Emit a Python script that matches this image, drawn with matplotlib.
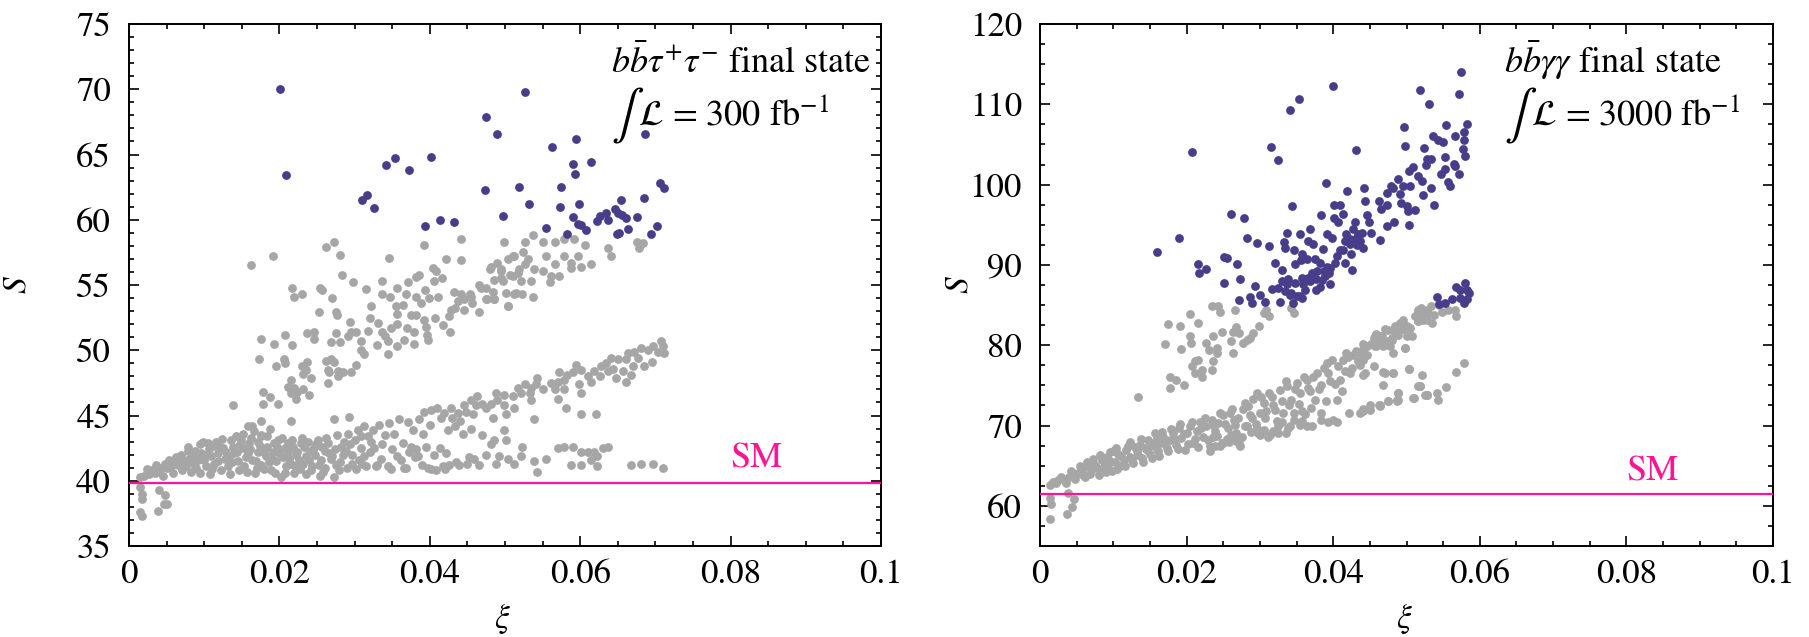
import numpy as np
import matplotlib
matplotlib.use("Agg")
import matplotlib.pyplot as plt
from matplotlib.ticker import MultipleLocator, FixedLocator, FixedFormatter

plt.rcParams["font.family"] = "STIXGeneral"
plt.rcParams["mathtext.fontset"] = "stix"

# ---- left panel: bb tau tau, 300 fb^-1 ----
left_gray = [
    # below the SM line
    (0.0014, 39.5), (0.0017, 39.0), (0.0017, 38.6), (0.0015, 37.6), (0.0017, 37.3),
    (0.0040, 39.3), (0.0048, 38.9), (0.0046, 38.2), (0.0050, 38.2), (0.0039, 37.7),
    # lower dense band
    (0.0014, 40.3), (0.0020, 40.4), (0.0027, 40.5), (0.0034, 40.6), (0.0040, 40.7), (0.0045, 40.4),
    (0.0051, 41.0), (0.0056, 41.1), (0.0060, 41.3), (0.0065, 41.2), (0.0067, 41.5), (0.0071, 40.8),
    (0.0076, 41.1), (0.0080, 41.7), (0.0085, 41.9), (0.0087, 41.3), (0.0089, 41.0), (0.0094, 42.8),
    (0.0098, 43.0), (0.0096, 42.1), (0.0100, 41.6), (0.0102, 41.1), (0.0107, 42.4), (0.0109, 41.9),
    (0.0113, 41.3), (0.0118, 42.1), (0.0120, 42.6), (0.0122, 40.8), (0.0127, 41.7), (0.0131, 41.1),
    (0.0136, 43.1), (0.0138, 42.6), (0.0140, 42.1), (0.0142, 43.4), (0.0145, 41.5), (0.0149, 43.1),
    (0.0151, 42.5), (0.0153, 41.1), (0.0158, 42.1), (0.0160, 42.9), (0.0164, 41.6), (0.0167, 40.6),
    (0.0171, 42.2), (0.0176, 43.4), (0.0176, 41.2), (0.0182, 41.9), (0.0184, 42.6), (0.0189, 40.8),
    (0.0193, 42.9), (0.0195, 41.5), (0.0200, 42.1), (0.0202, 40.3), (0.0207, 42.5), (0.0209, 41.1),
    (0.0213, 41.7), (0.0218, 42.6), (0.0220, 40.6), (0.0224, 42.2), (0.0229, 42.9), (0.0231, 41.3),
    (0.0235, 41.9), (0.0238, 43.0), (0.0242, 40.8), (0.0246, 42.5), (0.0251, 43.1), (0.0255, 41.6),
    (0.0258, 40.7), (0.0262, 43.3), (0.0266, 42.1), (0.0273, 40.3), (0.0275, 41.2), (0.0277, 43.5),
    (0.0282, 42.6), (0.0284, 42.0), (0.0291, 43.6), (0.0297, 41.3), (0.0300, 43.1), (0.0304, 43.9),
    (0.0309, 42.5), (0.0313, 44.2), (0.0315, 41.1), (0.0320, 42.2), (0.0324, 43.9), (0.0328, 41.1),
    (0.0333, 44.3), (0.0337, 42.8), (0.0344, 41.1), (0.0346, 44.4), (0.0353, 43.6), (0.0357, 41.9),
    (0.0359, 44.7), (0.0364, 42.9), (0.0366, 41.0), (0.0371, 44.5), (0.0375, 42.6), (0.0377, 43.9),
    (0.0384, 41.9), (0.0386, 44.7), (0.0391, 43.6), (0.0395, 42.6), (0.0397, 41.0), (0.0402, 45.4),
    (0.0408, 40.8), (0.0410, 45.6), (0.0413, 42.5), (0.0417, 41.1), (0.0419, 45.2), (0.0424, 43.9),
    (0.0426, 41.2), (0.0428, 45.6), (0.0433, 44.2), (0.0437, 45.2), (0.0439, 41.2), (0.0444, 43.6),
    (0.0446, 45.8), (0.0450, 41.3), (0.0455, 46.2), (0.0455, 44.0), (0.0459, 41.7), (0.0461, 45.8),
    (0.0030, 40.8), (0.0048, 41.3), (0.0058, 40.6), (0.0069, 42.0), (0.0078, 42.3), (0.0083, 40.7),
    (0.0092, 41.6), (0.0105, 42.9), (0.0111, 40.9), (0.0116, 43.0), (0.0125, 42.5), (0.0133, 41.8),
    (0.0147, 42.8), (0.0155, 41.8), (0.0162, 43.3), (0.0169, 41.5), (0.0174, 42.7), (0.0180, 40.9),
    (0.0186, 41.4), (0.0191, 42.2), (0.0198, 43.1), (0.0205, 41.8), (0.0211, 42.9), (0.0216, 41.3),
    (0.0222, 42.0), (0.0227, 40.9), (0.0233, 42.6), (0.0240, 41.6), (0.0248, 42.0), (0.0253, 41.2),
    (0.0260, 42.3), (0.0268, 41.7), (0.0280, 41.4), (0.0288, 42.3), (0.0294, 42.8), (0.0306, 41.6),
    (0.0318, 43.4),
    (0.0310, 41.3), (0.0330, 41.2), (0.0348, 40.9), (0.0368, 41.0), (0.0380, 41.8), (0.0402, 40.9),
    (0.0420, 40.9), (0.0435, 41.4), (0.0452, 41.8), (0.0465, 41.2),
    (0.0024, 40.9), (0.0036, 41.2), (0.0043, 41.0), (0.0053, 41.6), (0.0062, 41.8), (0.0074, 41.5),
    (0.0079, 42.6), (0.0088, 42.3), (0.0095, 40.6), (0.0104, 42.0), (0.0108, 40.5), (0.0115, 42.7),
    (0.0119, 41.5), (0.0124, 43.2), (0.0129, 42.2), (0.0134, 40.5), (0.0137, 41.4), (0.0144, 42.2),
    (0.0146, 40.8), (0.0152, 43.6), (0.0157, 40.7), (0.0161, 42.4), (0.0166, 43.8), (0.0170, 41.0),
    (0.0172, 43.0), (0.0179, 42.2), (0.0183, 43.4), (0.0190, 41.7), (0.0194, 40.6), (0.0197, 42.6),
    (0.0203, 43.3), (0.0208, 40.6), (0.0212, 42.2), (0.0217, 43.1), (0.0221, 41.1), (0.0226, 41.6),
    (0.0230, 43.3), (0.0236, 40.5), (0.0241, 42.3), (0.0244, 41.1), (0.0249, 42.8), (0.0254, 40.4),
    (0.0257, 42.6), (0.0261, 41.0), (0.0264, 42.9), (0.0270, 41.9), (0.0274, 42.4), (0.0279, 40.8),
    (0.0286, 43.0), (0.0290, 41.0), (0.0296, 42.0), (0.0302, 40.9), (0.0308, 43.4), (0.0312, 41.9),
    (0.0322, 43.0), (0.0326, 42.5), (0.0335, 41.7), (0.0340, 43.5), (0.0350, 42.4), (0.0362, 41.6),
    (0.0372, 42.2), (0.0382, 42.4), (0.0389, 41.2), (0.0400, 44.3), (0.0406, 42.0), (0.0415, 44.8),
    (0.0422, 42.1), (0.0430, 44.8), (0.0440, 44.6), (0.0448, 45.3), (0.0458, 45.1), (0.0463, 46.5),
    # between the bands
    (0.0138, 45.8), (0.0178, 46.8), (0.0178, 45.9), (0.0188, 46.4), (0.0198, 45.9), (0.0176, 44.6),
    (0.0216, 44.6), (0.0272, 44.7), (0.0292, 44.9), (0.0158, 44.2), (0.0164, 44.2), (0.0187, 44.0),
    (0.0176, 43.5), (0.0392, 45.3),
    # upper band
    (0.0162, 56.5), (0.0191, 57.2), (0.0262, 57.9), (0.0272, 58.3), (0.0280, 57.3), (0.0283, 55.8),
    (0.0298, 55.2), (0.0315, 54.7), (0.0217, 54.8), (0.0219, 54.1), (0.0230, 54.3), (0.0254, 54.8),
    (0.0257, 54.6), (0.0270, 54.0), (0.0253, 52.9), (0.0275, 52.9), (0.0277, 52.7), (0.0294, 52.2),
    (0.0295, 51.4), (0.0302, 51.4), (0.0291, 51.1), (0.0318, 51.5), (0.0269, 50.6), (0.0275, 51.3),
    (0.0280, 50.6), (0.0237, 51.3), (0.0246, 51.4), (0.0246, 50.9), (0.0207, 51.2), (0.0217, 50.4),
    (0.0193, 50.5), (0.0176, 50.9), (0.0173, 49.3), (0.0206, 49.3), (0.0207, 49.0), (0.0195, 48.8),
    (0.0230, 48.8), (0.0237, 49.1), (0.0235, 48.5), (0.0242, 47.9), (0.0231, 48.2), (0.0215, 47.7),
    (0.0211, 47.2), (0.0220, 47.1), (0.0215, 46.7), (0.0224, 46.8), (0.0232, 47.0), (0.0222, 46.3),
    (0.0239, 46.6), (0.0262, 49.2), (0.0268, 49.3), (0.0273, 49.1), (0.0264, 48.5), (0.0266, 48.3),
    (0.0265, 47.5), (0.0278, 48.4), (0.0278, 48.0), (0.0284, 48.3), (0.0295, 48.3), (0.0302, 48.9),
    (0.0309, 50.7), (0.0309, 50.0), (0.0313, 49.7), (0.0331, 52.1), (0.0330, 50.4), (0.0336, 51.4),
    (0.0340, 51.1), (0.0344, 49.7), (0.0344, 50.7), (0.0349, 51.7), (0.0320, 52.5), (0.0322, 53.4),
    (0.0337, 55.3), (0.0336, 54.3), (0.0347, 54.1), (0.0346, 57.1), (0.0357, 54.8), (0.0355, 53.4),
    (0.0356, 52.8), (0.0371, 55.2), (0.0368, 54.3), (0.0365, 53.5), (0.0357, 52.0), (0.0370, 51.7),
    (0.0366, 50.8), (0.0357, 50.3), (0.0375, 52.7), (0.0382, 55.6), (0.0385, 55.8), (0.0382, 54.1),
    (0.0382, 52.7), (0.0379, 51.4), (0.0379, 50.5), (0.0388, 53.6), (0.0392, 52.3), (0.0394, 54.6),
    (0.0395, 51.8), (0.0396, 51.2), (0.0397, 50.8), (0.0392, 58.1), (0.0399, 54.0), (0.0404, 56.3),
    (0.0406, 55.3), (0.0408, 56.1), (0.0416, 55.5), (0.0411, 54.1), (0.0407, 52.5), (0.0418, 51.9),
    (0.0422, 57.0), (0.0432, 54.5), (0.0428, 53.1), (0.0426, 52.6), (0.0427, 51.4), (0.0434, 53.2),
    (0.0437, 53.8), (0.0441, 54.3), (0.0442, 58.5), (0.0442, 56.9), (0.0445, 53.9), (0.0446, 53.1),
    (0.0453, 54.3), (0.0455, 54.1), (0.0456, 53.6), (0.0466, 52.9), (0.0465, 55.0), (0.0468, 54.8),
    (0.0476, 53.9), (0.0485, 53.9), (0.0480, 56.2), (0.0481, 56.4), (0.0490, 56.7), (0.0495, 56.1),
    (0.0495, 55.5), (0.0499, 58.3), (0.0504, 57.0), (0.0506, 55.8), (0.0504, 53.4), (0.0512, 57.2),
    (0.0515, 54.4), (0.0517, 55.9),
    (0.0526, 58.3), (0.0537, 58.8), (0.0550, 58.3), (0.0567, 58.3), (0.0579, 58.5), (0.0592, 58.5),
    (0.0606, 58.1), (0.0637, 57.8), (0.0641, 57.2), (0.0676, 58.3), (0.0683, 58.2), (0.0678, 57.8),
    (0.0510, 57.2), (0.0524, 57.5), (0.0530, 57.0), (0.0526, 56.6), (0.0554, 57.2), (0.0566, 56.6),
    (0.0579, 57.2), (0.0588, 56.7), (0.0597, 57.2), (0.0601, 56.4), (0.0614, 56.6), (0.0519, 56.2),
    (0.0539, 56.2), (0.0550, 56.1), (0.0561, 55.7), (0.0572, 55.7), (0.0588, 56.3), (0.0495, 56.2),
    (0.0486, 55.4), (0.0497, 55.3), (0.0510, 55.7), (0.0521, 55.3), (0.0535, 55.3), (0.0560, 55.2),
    (0.0475, 54.8), (0.0484, 54.5), (0.0501, 54.4), (0.0512, 54.3), (0.0523, 54.3), (0.0537, 54.1),
    (0.0475, 53.9), (0.0486, 53.9), (0.0504, 53.4),
    # lower band, right part
    (0.0708, 50.7), (0.0710, 50.3), (0.0703, 49.9), (0.0711, 49.8), (0.0697, 50.3), (0.0690, 50.0),
    (0.0681, 50.2), (0.0672, 49.9), (0.0663, 49.8), (0.0677, 49.4), (0.0695, 49.1), (0.0685, 48.8),
    (0.0670, 48.8), (0.0661, 49.3), (0.0650, 49.3), (0.0641, 49.4), (0.0634, 49.0), (0.0643, 48.6),
    (0.0657, 48.4), (0.0668, 48.1), (0.0661, 47.6), (0.0648, 47.9), (0.0637, 48.4), (0.0628, 48.8),
    (0.0619, 48.4), (0.0626, 48.0), (0.0610, 48.0), (0.0601, 48.5), (0.0594, 48.9), (0.0590, 48.3),
    (0.0583, 48.1), (0.0579, 47.7), (0.0572, 48.3), (0.0570, 47.6), (0.0561, 47.5), (0.0566, 47.0),
    (0.0579, 47.0), (0.0599, 47.4), (0.0614, 47.6), (0.0601, 46.7), (0.0543, 47.9), (0.0541, 47.4),
    (0.0550, 47.0), (0.0535, 47.1), (0.0526, 47.4), (0.0517, 47.1), (0.0533, 46.7), (0.0521, 46.7),
    (0.0510, 46.5), (0.0499, 46.6), (0.0488, 46.7), (0.0490, 46.2), (0.0481, 45.9), (0.0499, 45.8),
    (0.0512, 45.6), (0.0475, 45.6), (0.0470, 45.9), (0.0535, 46.2), (0.0570, 46.3), (0.0581, 45.6),
    (0.0539, 44.7), (0.0501, 45.1), (0.0484, 44.8), (0.0601, 45.1), (0.0621, 45.1),
    # lower flat branch, right part
    (0.0470, 43.5), (0.0499, 43.9), (0.0501, 43.1), (0.0486, 43.1), (0.0481, 42.8), (0.0523, 42.6),
    (0.0475, 42.0), (0.0492, 41.9), (0.0504, 41.7), (0.0521, 41.9), (0.0539, 41.5), (0.0554, 41.7),
    (0.0543, 40.7), (0.0512, 41.3), (0.0488, 41.3), (0.0570, 42.5), (0.0579, 42.6), (0.0590, 42.6),
    (0.0601, 42.2), (0.0610, 42.2), (0.0619, 42.2), (0.0623, 41.9), (0.0637, 42.6), (0.0630, 42.5),
    (0.0614, 41.6), (0.0588, 41.2), (0.0601, 41.2), (0.0623, 41.1), (0.0668, 41.2), (0.0681, 41.3),
    (0.0697, 41.3), (0.0710, 41.0),
]

left_blue = [
    (0.0201, 70.0), (0.0209, 63.4), (0.0526, 69.8), (0.0475, 67.9), (0.0490, 66.6), (0.0686, 66.6),
    (0.0563, 65.6), (0.0595, 66.2), (0.0354, 64.7), (0.0342, 64.2), (0.0373, 63.8), (0.0401, 64.8),
    (0.0590, 64.3), (0.0593, 63.5), (0.0614, 64.4), (0.0310, 61.5), (0.0316, 61.9), (0.0326, 60.9),
    (0.0473, 62.3), (0.0519, 62.5), (0.0575, 62.5), (0.0706, 62.8), (0.0711, 62.4), (0.0532, 61.2),
    (0.0573, 61.0), (0.0598, 61.2), (0.0654, 61.5), (0.0685, 61.7), (0.0498, 60.3), (0.0393, 59.5),
    (0.0414, 60.0), (0.0432, 59.8), (0.0554, 59.4), (0.0582, 58.9), (0.0591, 60.2), (0.0597, 59.7),
    (0.0601, 59.6), (0.0608, 59.2), (0.0622, 59.9), (0.0626, 60.3), (0.0634, 60.5), (0.0637, 60.0),
    (0.0646, 60.8), (0.0650, 60.5), (0.0655, 60.4), (0.0661, 60.1), (0.0663, 59.3), (0.0649, 58.9),
    (0.0652, 59.0), (0.0676, 60.2), (0.0694, 58.9), (0.0702, 59.5),
]

# ---- right panel: bb gamma gamma, 3000 fb^-1 ----
right_gray = [
    # below the SM line
    (0.0013, 61.0), (0.0015, 60.2), (0.0013, 58.4), (0.0037, 59.0), (0.0044, 59.8), (0.0046, 60.9),
    (0.0038, 61.6),
    # dense band
    (0.0014, 62.6), (0.0018, 63.0), (0.0025, 63.2), (0.0032, 63.4), (0.0039, 63.6), (0.0045, 63.9),
    (0.0052, 64.1), (0.0057, 64.5), (0.0061, 63.6), (0.0066, 64.9), (0.0070, 64.3), (0.0075, 65.1),
    (0.0080, 63.9), (0.0084, 65.7), (0.0086, 64.7), (0.0091, 66.1), (0.0093, 65.1), (0.0098, 64.3),
    (0.0100, 66.8), (0.0102, 65.5), (0.0107, 66.4), (0.0109, 64.9), (0.0114, 65.7), (0.0118, 67.0),
    (0.0123, 68.0), (0.0123, 66.1), (0.0127, 65.3), (0.0132, 66.8), (0.0136, 67.6), (0.0139, 65.9),
    (0.0143, 67.2), (0.0148, 68.2), (0.0150, 66.4), (0.0155, 67.4), (0.0157, 69.1), (0.0161, 66.8),
    (0.0164, 67.8), (0.0168, 68.6), (0.0173, 67.2), (0.0177, 68.2), (0.0182, 69.1), (0.0186, 67.6),
    (0.0189, 69.7), (0.0193, 68.4), (0.0198, 67.0), (0.0200, 69.1), (0.0205, 69.9), (0.0209, 67.8),
    (0.0214, 69.3), (0.0218, 70.5), (0.0223, 68.6), (0.0227, 69.9), (0.0232, 67.4), (0.0234, 70.7),
    (0.0239, 69.3), (0.0243, 70.3), (0.0248, 67.8), (0.0250, 71.3), (0.0257, 69.7), (0.0259, 71.5),
    (0.0264, 70.7), (0.0268, 69.1), (0.0273, 67.4), (0.0277, 72.0), (0.0280, 69.9), (0.0284, 72.4),
    (0.0289, 70.9), (0.0296, 74.0), (0.0298, 69.1), (0.0300, 71.5), (0.0305, 72.8), (0.0307, 70.9),
    (0.0314, 68.8), (0.0316, 73.6), (0.0321, 71.9), (0.0325, 69.9), (0.0327, 74.4), (0.0332, 71.5),
    (0.0337, 74.9), (0.0339, 69.7), (0.0343, 73.2), (0.0346, 71.5), (0.0350, 75.3), (0.0355, 74.0),
    (0.0357, 71.8), (0.0364, 75.7), (0.0364, 69.9), (0.0368, 74.3), (0.0373, 76.1), (0.0375, 73.2),
    (0.0380, 74.5), (0.0384, 71.5), (0.0387, 77.2), (0.0391, 77.8), (0.0396, 75.5), (0.0400, 70.7),
    (0.0405, 73.2), (0.0409, 75.7), (0.0414, 78.2), (0.0418, 79.0), (0.0423, 76.5), (0.0427, 78.8),
    (0.0434, 78.0), (0.0437, 71.5), (0.0441, 79.5), (0.0443, 76.5), (0.0450, 71.9), (0.0455, 80.9),
    (0.0459, 79.9), (0.0464, 72.4), (0.0466, 81.1), (0.0468, 76.7), (0.0475, 81.9), (0.0477, 79.9),
    (0.0482, 76.5), (0.0484, 82.4), (0.0489, 73.2), (0.0491, 82.8), (0.0498, 79.7), (0.0500, 82.4),
    (0.0503, 77.0), (0.0509, 73.4), (0.0516, 84.0), (0.0518, 74.9), (0.0523, 83.2), (0.0528, 84.4),
    (0.0528, 73.8), (0.0516, 83.0),
    (0.0022, 62.8), (0.0029, 63.6), (0.0035, 62.9), (0.0042, 64.3), (0.0048, 63.4), (0.0055, 64.9),
    (0.0059, 63.9), (0.0064, 65.4), (0.0068, 64.0), (0.0072, 65.8), (0.0078, 64.7), (0.0082, 66.3),
    (0.0088, 65.2), (0.0090, 64.2), (0.0095, 66.7), (0.0096, 65.6), (0.0104, 67.2), (0.0105, 64.6),
    (0.0111, 66.2), (0.0116, 65.0), (0.0120, 67.5), (0.0125, 65.7), (0.0129, 67.3), (0.0134, 66.3),
    (0.0138, 68.3), (0.0141, 65.4), (0.0146, 66.9), (0.0152, 67.8), (0.0153, 65.9), (0.0159, 68.5),
    (0.0163, 66.2), (0.0166, 69.2), (0.0170, 67.7), (0.0175, 66.8), (0.0179, 69.6), (0.0184, 68.3),
    (0.0188, 67.1), (0.0191, 70.2), (0.0196, 68.9), (0.0202, 67.7), (0.0207, 70.4), (0.0211, 68.3),
    (0.0216, 67.3), (0.0220, 69.7), (0.0225, 71.0), (0.0229, 68.2), (0.0236, 70.1), (0.0241, 68.7),
    (0.0245, 71.5), (0.0252, 70.2), (0.0255, 68.3), (0.0262, 72.0), (0.0266, 70.1), (0.0270, 71.0),
    (0.0275, 68.6), (0.0279, 72.8), (0.0286, 71.3), (0.0291, 73.3), (0.0294, 70.2), (0.0302, 73.6),
    (0.0309, 71.8), (0.0312, 74.1), (0.0318, 72.6), (0.0323, 70.6), (0.0330, 73.0), (0.0335, 75.5),
    (0.0340, 72.5), (0.0348, 74.6), (0.0353, 72.7), (0.0360, 76.0), (0.0366, 74.7), (0.0370, 72.2),
    (0.0378, 76.5), (0.0383, 75.0), (0.0390, 73.0), (0.0393, 76.6), (0.0398, 78.2), (0.0403, 75.2),
    (0.0407, 77.4), (0.0412, 74.3), (0.0416, 76.8), (0.0420, 78.5), (0.0426, 77.2), (0.0431, 79.3),
    (0.0436, 77.5), (0.0440, 80.2), (0.0446, 78.8), (0.0452, 80.1), (0.0458, 81.4), (0.0463, 80.6),
    (0.0470, 82.0), (0.0480, 80.6), (0.0488, 81.9), (0.0495, 83.1), (0.0505, 82.2), (0.0512, 83.6),
    (0.0520, 84.6), (0.0534, 84.9), (0.0545, 85.0),
    # lower branch
    (0.0232, 66.8), (0.0239, 67.4), (0.0250, 67.8), (0.0261, 68.8), (0.0271, 67.8), (0.0282, 69.9),
    (0.0296, 69.7), (0.0300, 68.8), (0.0311, 68.6), (0.0325, 69.1), (0.0341, 69.9), (0.0355, 70.1),
    (0.0371, 69.9), (0.0384, 70.7), (0.0393, 70.5), (0.0405, 70.5), (0.0421, 71.5), (0.0441, 71.8),
    (0.0464, 72.6), (0.0475, 73.0), (0.0487, 73.2), (0.0489, 74.0), (0.0516, 74.9), (0.0525, 73.8),
    (0.0236, 68.6), (0.0245, 67.4), (0.0258, 67.9), (0.0268, 68.1), (0.0288, 69.2), (0.0305, 69.5),
    (0.0318, 69.3), (0.0330, 70.4), (0.0336, 69.1), (0.0346, 70.7), (0.0358, 70.6), (0.0362, 71.4),
    # upper gray cluster
    (0.0134, 73.6), (0.0170, 80.1), (0.0174, 82.6), (0.0177, 76.1), (0.0177, 74.7), (0.0186, 75.7),
    (0.0196, 75.0), (0.0191, 82.4), (0.0205, 83.9), (0.0205, 81.1), (0.0206, 80.3), (0.0193, 79.5),
    (0.0215, 82.8), (0.0211, 78.0), (0.0208, 77.4), (0.0216, 78.2), (0.0221, 76.9), (0.0211, 76.5),
    (0.0221, 76.1), (0.0227, 80.3), (0.0230, 79.4), (0.0234, 84.9), (0.0236, 81.1), (0.0236, 78.0),
    (0.0234, 76.9), (0.0241, 79.7), (0.0243, 84.9), (0.0245, 84.2), (0.0248, 81.7), (0.0241, 79.0),
    (0.0261, 80.5), (0.0263, 79.0), (0.0263, 81.7), (0.0266, 84.4), (0.0268, 82.3), (0.0271, 81.5),
    (0.0277, 80.3), (0.0282, 80.7), (0.0287, 80.9), (0.0290, 81.5), (0.0299, 82.4), (0.0305, 84.0),
    (0.0309, 84.4), (0.0313, 83.7), (0.0342, 84.6), (0.0346, 84.0),
    # right end of the bands
    (0.0516, 84.4), (0.0523, 83.6), (0.0530, 84.0), (0.0537, 83.8), (0.0548, 84.2), (0.0557, 84.4),
    (0.0566, 84.4), (0.0568, 83.6), (0.0516, 83.0), (0.0528, 83.2), (0.0535, 82.8), (0.0491, 82.4),
    (0.0498, 81.9), (0.0482, 81.9), (0.0489, 81.3), (0.0500, 81.1), (0.0507, 81.1), (0.0480, 80.9),
    (0.0473, 80.5), (0.0464, 81.1), (0.0457, 81.1), (0.0468, 79.9), (0.0457, 79.9), (0.0446, 79.9),
    (0.0482, 79.0), (0.0498, 79.7), (0.0437, 79.0), (0.0441, 78.2),
    (0.0578, 77.8), (0.0568, 76.7), (0.0554, 74.8), (0.0521, 76.3), (0.0519, 74.9), (0.0503, 77.0),
    (0.0482, 76.5), (0.0471, 76.5), (0.0455, 77.4), (0.0441, 76.3), (0.0468, 75.1), (0.0541, 74.0),
    (0.0543, 73.2), (0.0528, 73.8), (0.0510, 73.4), (0.0489, 74.0), (0.0487, 73.1), (0.0475, 73.0),
    (0.0462, 72.6), (0.0450, 72.6), (0.0441, 72.0),
]

right_blue = [
    (0.0159, 91.6), (0.0190, 93.3), (0.0208, 104.1), (0.0215, 90.1), (0.0217, 89.0), (0.0227, 89.5),
    (0.0251, 91.0), (0.0255, 90.8), (0.0251, 87.8), (0.0269, 90.1), (0.0273, 88.3), (0.0272, 85.6),
    (0.0260, 96.4), (0.0278, 95.8), (0.0282, 93.4), (0.0287, 86.0), (0.0289, 85.3), (0.0293, 87.4),
    (0.0296, 92.7), (0.0300, 86.3), (0.0307, 85.4), (0.0313, 92.3), (0.0315, 104.7), (0.0316, 87.0),
    (0.0321, 90.3), (0.0325, 103.1), (0.0325, 87.1), (0.0328, 85.4), (0.0330, 89.4), (0.0333, 92.8),
    (0.0334, 92.1), (0.0334, 86.7), (0.0337, 94.0), (0.0339, 88.2), (0.0341, 109.3), (0.0344, 97.3),
    (0.0343, 86.5), (0.0346, 91.9), (0.0348, 90.1), (0.0348, 87.8), (0.0345, 85.3), (0.0350, 86.1),
    (0.0353, 110.7), (0.0355, 93.8), (0.0356, 90.6), (0.0357, 88.4), (0.0358, 91.4), (0.0357, 85.9),
    (0.0362, 86.9), (0.0364, 90.7), (0.0366, 93.0), (0.0366, 88.4), (0.0369, 94.5), (0.0371, 89.0),
    (0.0373, 92.6), (0.0375, 90.7), (0.0377, 86.9), (0.0378, 89.3), (0.0382, 90.2), (0.0383, 96.2),
    (0.0385, 88.1), (0.0386, 92.0), (0.0387, 89.3), (0.0389, 88.6), (0.0390, 100.2), (0.0391, 89.7),
    (0.0392, 93.9), (0.0396, 87.6), (0.0398, 93.4), (0.0400, 112.3), (0.0401, 97.4), (0.0401, 95.9),
    (0.0402, 90.3), (0.0405, 91.1), (0.0407, 95.3), (0.0409, 97.5), (0.0409, 91.9), (0.0414, 96.4),
    (0.0416, 90.2), (0.0418, 93.8), (0.0419, 99.2), (0.0421, 92.8), (0.0423, 93.2), (0.0424, 91.3),
    (0.0425, 89.4), (0.0427, 94.5), (0.0430, 95.4), (0.0431, 104.3), (0.0432, 92.5), (0.0434, 93.8),
    (0.0437, 93.0), (0.0439, 94.0), (0.0441, 92.1), (0.0442, 99.6), (0.0444, 97.9), (0.0446, 96.2),
    (0.0449, 95.3), (0.0452, 94.0), (0.0462, 97.9), (0.0464, 93.1), (0.0465, 97.0), (0.0473, 97.4),
    (0.0474, 98.9), (0.0474, 94.9), (0.0479, 99.8), (0.0481, 99.6), (0.0483, 95.4), (0.0489, 100.7),
    (0.0491, 98.8), (0.0492, 97.7), (0.0495, 99.8), (0.0497, 107.2), (0.0498, 104.8), (0.0500, 97.3),
    (0.0502, 96.7), (0.0503, 95.0), (0.0504, 101.7), (0.0505, 99.8), (0.0509, 102.2), (0.0512, 96.9),
    (0.0516, 101.1), (0.0518, 111.8), (0.0521, 100.4), (0.0522, 98.7), (0.0524, 104.6), (0.0527, 102.4),
    (0.0528, 103.2), (0.0531, 110.0), (0.0533, 103.2), (0.0534, 99.6), (0.0536, 106.0), (0.0537, 97.5),
    (0.0543, 105.5), (0.0547, 101.3), (0.0550, 105.3), (0.0553, 103.4), (0.0553, 101.9), (0.0554, 107.4),
    (0.0557, 100.3), (0.0559, 99.8), (0.0565, 102.6), (0.0566, 106.1), (0.0566, 102.3), (0.0571, 101.3),
    (0.0572, 111.3), (0.0575, 114.0), (0.0577, 104.4), (0.0578, 106.6), (0.0579, 105.6), (0.0580, 103.6),
    (0.0582, 107.5),
    (0.0330, 88.0), (0.0337, 87.6), (0.0341, 86.3), (0.0355, 86.1), (0.0359, 87.6), (0.0368, 88.0),
    (0.0377, 88.2), (0.0382, 87.3), (0.0394, 89.0), (0.0396, 89.6), (0.0414, 91.9), (0.0416, 93.0),
    (0.0423, 92.6), (0.0430, 93.2),
    # top of the lower band
    (0.0541, 86.0), (0.0553, 85.3), (0.0562, 85.8), (0.0568, 87.3), (0.0573, 86.9), (0.0580, 87.8),
    (0.0582, 86.9), (0.0573, 85.9), (0.0582, 85.7), (0.0578, 85.3), (0.0585, 86.5), (0.0544, 85.1),
]

sm_left = 39.83
sm_right = 61.5
xi_ticks = [0, 0.02, 0.04, 0.06, 0.08, 0.1]
xi_labels = ["0", "0.02", "0.04", "0.06", "0.08", "0.1"]
left_yticks = [35, 40, 45, 50, 55, 60, 65, 70, 75]
right_yticks = [60, 70, 80, 90, 100, 110, 120]

gray = "#a6a6a6"
blue = "#483d8b"
pink = "#ff1493"

fig = plt.figure(figsize=(18.09, 6.37), dpi=100)
ax1 = fig.add_axes([129 / 1809, 91 / 637, 752 / 1809, 522 / 637])
ax2 = fig.add_axes([1040 / 1809, 91 / 637, 733 / 1809, 522 / 637])


def draw(ax, grey_pts, blue_pts, sm, ylim, yticks, yminor, lines, text_x, int_dx, sm_y, ylab_x):
    g = np.array(grey_pts)
    b = np.array(blue_pts)
    ax.scatter(g[:, 0], g[:, 1], s=40, color=gray, linewidths=0, zorder=2)
    ax.scatter(b[:, 0], b[:, 1], s=40, color=blue, linewidths=0, zorder=2)
    ax.axhline(sm, color=pink, lw=1.6, zorder=3)
    ax.text(0.0835, sm_y, "SM", color=pink, fontsize=26, ha="center", va="baseline")
    ax.set_xlim(0, 0.1)
    ax.set_ylim(*ylim)
    ax.xaxis.set_major_locator(FixedLocator(xi_ticks))
    ax.xaxis.set_major_formatter(FixedFormatter(xi_labels))
    ax.xaxis.set_minor_locator(MultipleLocator(0.005))
    ax.yaxis.set_major_locator(FixedLocator(yticks))
    ax.yaxis.set_minor_locator(MultipleLocator(yminor))
    ax.tick_params(which="both", direction="in", top=True, right=True, width=1.2, labelsize=25)
    ax.tick_params(which="major", length=7)
    ax.tick_params(which="minor", length=3.5)
    ax.tick_params(axis="x", pad=9)
    ax.tick_params(axis="y", pad=13)
    for sp in ax.spines.values():
        sp.set_linewidth(1.4)
    ax.set_xlabel(r"$\xi$", fontsize=24)
    ax.set_ylabel(r"$S$", fontsize=24)
    ax.xaxis.set_label_coords(0.497, -0.108)
    ax.yaxis.set_label_coords(ylab_x, 0.5)
    ax.text(text_x, 0.906, lines[0], transform=ax.transAxes, fontsize=26, ha="left", va="baseline")
    ax.text(text_x, 0.800, "\u222b", transform=ax.transAxes, fontsize=35, ha="left", va="baseline")
    ax.text(text_x + int_dx, 0.808, lines[1], transform=ax.transAxes, fontsize=26,
            ha="left", va="baseline")


draw(ax1, left_gray, left_blue, sm_left, (35, 75), left_yticks, 1, [
    r"$b\bar{b}\tau^{+}\tau^{-}$ final state",
    r"$\mathcal{L}$ = 300 fb$^{-1}$"], 0.641, 0.036, 41.05, -0.128)
draw(ax2, right_gray, right_blue, sm_right, (55, 120), right_yticks, 2.5, [
    r"$b\bar{b}\gamma\gamma$ final state",
    r"$\mathcal{L}$ = 3000 fb$^{-1}$"], 0.633, 0.037, 63.2, -0.09)

fig.savefig("out.png", dpi=100)
